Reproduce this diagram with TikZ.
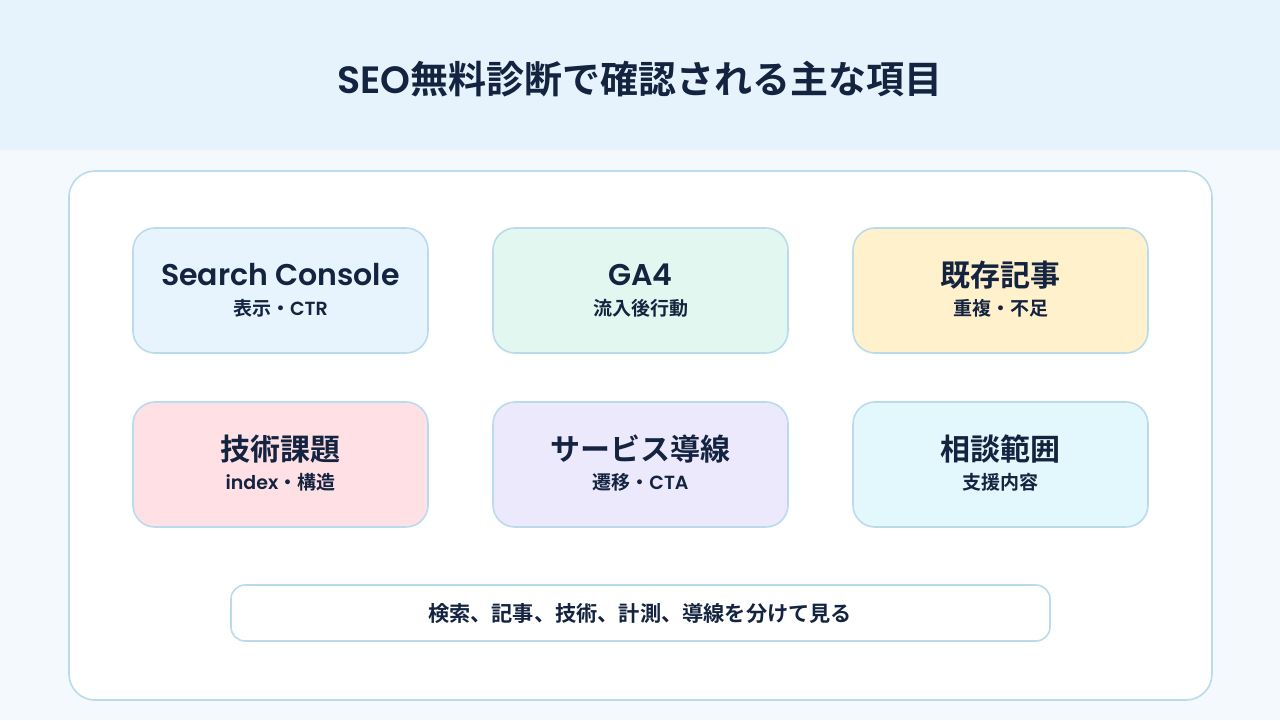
\documentclass[tikz,border=0pt]{standalone}
\usepackage{fontspec}
\setmainfont{Poppins}[BoldFont={* SemiBold}]
\newfontfamily\jp{Noto Sans CJK JP}[BoldFont={* Bold}]
\definecolor{ink}{HTML}{14233F}
\definecolor{hdr}{HTML}{E6F3FC}
\definecolor{bgc}{HTML}{F4F9FD}
\definecolor{bd}{HTML}{B9DBEA}
\definecolor{c1}{HTML}{E8F4FD}
\definecolor{c2}{HTML}{E1F7EF}
\definecolor{c3}{HTML}{FFF1CC}
\definecolor{c4}{HTML}{FFE1E5}
\definecolor{c5}{HTML}{EDE9FD}
\definecolor{c6}{HTML}{E3F8FD}
\tikzset{card/.style={draw=bd,line width=0.8pt,rounded corners=11pt},
 ttl/.style={text=ink,font=\bfseries\fontsize{15}{16}\selectfont},
 sub/.style={text=ink,font=\bfseries\fontsize{9.5}{11}\selectfont}}
\begin{document}
\begin{tikzpicture}[x=0.5pt,y=-0.5pt]
\fill[bgc] (0,0) rectangle (1280,720);
\fill[hdr] (0,0) rectangle (1280,150);
\useasboundingbox (0,0) rectangle (1280,720);
\node[text=ink,font=\bfseries\fontsize{19}{20}\selectfont] (title) at (640,79) {SEO{\jp 無料診断で確認される主な項目}};
\draw[bd,fill=white,line width=0.8pt,rounded corners=13pt] (69,171) rectangle (1212,700);
\foreach \x/\y/\c/\n/\t/\s in {133/228/c1/a/Search Console/{\jp 表示・}CTR, 493/228/c2/b/GA4/{\jp 流入後行動}, 853/228/c3/c/{\jp 既存記事}/{\jp 重複・不足}, 133/402/c4/d/{\jp 技術課題}/index{\jp ・構造}, 493/402/c5/e/{\jp サービス導線}/{\jp 遷移・}CTA, 853/402/c6/f/{\jp 相談範囲}/{\jp 支援内容}}{
 \draw[card,fill=\c] (\x,\y) rectangle ++(295,125);
 \node[ttl] (\n t) at (\x+147.5,\y+47) {\t};
 \node[sub] (\n s) at (\x+147.5,\y+80) {\s};
}
\draw[bd,fill=white,line width=0.8pt,rounded corners=7pt] (231,585) rectangle (1050,641);
\node[text=ink,font=\jp\bfseries\fontsize{10.6}{12}\selectfont] (bar) at (640,613) {検索、記事、技術、計測、導線を分けて見る};
\end{tikzpicture}
\end{document}
